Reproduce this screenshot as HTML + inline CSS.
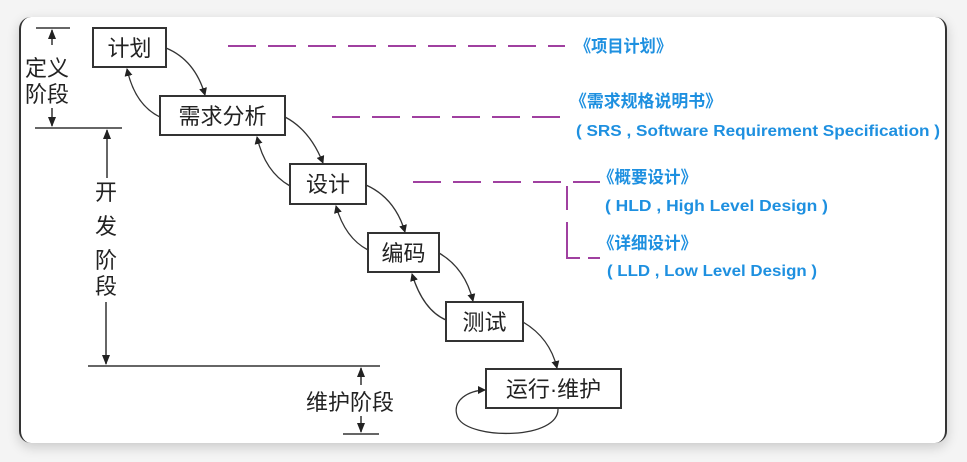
<!DOCTYPE html>
<html><head><meta charset="utf-8"><style>
html,body{margin:0;padding:0;background:#f4f4f4;}
body{width:967px;height:462px;overflow:hidden;position:relative;}
.card{position:absolute;left:19px;top:17px;width:928px;height:426px;background:#fff;border-radius:12px;box-shadow:0 4px 12px rgba(0,0,0,0.18);border-left:2px solid #333;border-right:2px solid #333;box-sizing:border-box;}
svg{position:absolute;left:0;top:0;}
.cn{font-family:"Liberation Sans","Noto Sans CJK SC",sans-serif;font-size:22px;fill:#222;}
.bl{font-family:"Liberation Sans","Noto Sans CJK SC",sans-serif;font-weight:bold;fill:#1e90e0;}
</style></head><body>
<div class="card"></div>
<svg width="967" height="462" viewBox="0 0 967 462">
<defs>
<marker id="a" markerWidth="8" markerHeight="8" refX="7" refY="4" orient="auto" markerUnits="userSpaceOnUse"><path d="M0,0 L8,4 L0,8 z" fill="#222"/></marker>
<marker id="b" markerWidth="10" markerHeight="10" refX="9" refY="5" orient="auto" markerUnits="userSpaceOnUse"><path d="M0,1 L10,5 L0,9 z" fill="#222"/></marker>
</defs>
<g stroke="#333" stroke-width="2" fill="#fff">
<rect x="93" y="28" width="73" height="39"/>
<rect x="160" y="96" width="125" height="39"/>
<rect x="290" y="164" width="76" height="40"/>
<rect x="368" y="233" width="71" height="39"/>
<rect x="446" y="302" width="77" height="39"/>
<rect x="486" y="369" width="135" height="39"/>
</g>
<g class="cn">
<text x="129.5" y="56" text-anchor="middle">计划</text>
<text x="222.5" y="124" text-anchor="middle">需求分析</text>
<text x="328" y="192" text-anchor="middle">设计</text>
<text x="403.5" y="261" text-anchor="middle">编码</text>
<text x="484.5" y="330" text-anchor="middle">测试</text>
<text x="553.5" y="397" text-anchor="middle">运行·维护</text>
<text x="25" y="76">定义</text>
<text x="25" y="102">阶段</text>
<text x="95" y="200">开</text>
<text x="95" y="234">发</text>
<text x="95" y="268">阶</text>
<text x="95" y="294">段</text>
<text x="306" y="410">维护阶段</text>
</g>
<g stroke="#333" stroke-width="1.3" fill="none">
<path d="M166,48 Q195,60 205,95" marker-end="url(#a)"/>
<path d="M160,117 Q135,105 127,69" marker-end="url(#a)"/>
<path d="M285,117 Q310,130 323,163" marker-end="url(#a)"/>
<path d="M290,186 Q265,172 257,137" marker-end="url(#a)"/>
<path d="M366,185 Q395,198 405,232" marker-end="url(#a)"/>
<path d="M368,250 Q345,238 336,206" marker-end="url(#a)"/>
<path d="M439,253 Q465,268 473,301" marker-end="url(#a)"/>
<path d="M446,320 Q423,310 412,274" marker-end="url(#a)"/>
<path d="M523,322 Q550,338 557,368" marker-end="url(#a)"/>
<path d="M558,408 C560,440 470,440 458,418 C450,400 470,390 485,390" marker-end="url(#a)"/>
</g>
<g stroke="#333" stroke-width="1.5" fill="none">
<line x1="36" y1="28" x2="70" y2="28"/>
<line x1="35" y1="128" x2="122" y2="128"/>
<line x1="88" y1="366" x2="380" y2="366"/>
<line x1="343" y1="434" x2="379" y2="434"/>
<line x1="52" y1="45" x2="52" y2="30" marker-end="url(#b)"/>
<line x1="52" y1="108" x2="52" y2="126" marker-end="url(#b)"/>
<line x1="107" y1="178" x2="107" y2="130" marker-end="url(#b)"/>
<line x1="106" y1="302" x2="106" y2="364" marker-end="url(#b)"/>
<line x1="361" y1="385" x2="361" y2="368" marker-end="url(#b)"/>
<line x1="361" y1="416" x2="361" y2="432" marker-end="url(#b)"/>
</g>
<g stroke="#a040a0" stroke-width="2" fill="none" stroke-dasharray="28,12">
<line x1="228" y1="46" x2="565" y2="46"/>
<line x1="332" y1="117" x2="565" y2="117"/>
<line x1="413" y1="182" x2="600" y2="182"/>
</g>
<g stroke="#a040a0" stroke-width="2" fill="none">
<polyline points="567,186 567,210"/>
<polyline points="567,222 567,258 580,258"/>
<line x1="588" y1="258" x2="600" y2="258"/>
</g>
<g class="bl">
<text x="575" y="52" font-size="17" textLength="97" lengthAdjust="spacingAndGlyphs">《项目计划》</text>
<text x="570" y="107" font-size="17" textLength="152" lengthAdjust="spacingAndGlyphs">《需求规格说明书》</text>
<text x="576" y="136" font-size="16" textLength="364" lengthAdjust="spacingAndGlyphs">( SRS , Software Requirement Specification )</text>
<text x="598" y="183" font-size="17" textLength="99" lengthAdjust="spacingAndGlyphs">《概要设计》</text>
<text x="605" y="211" font-size="16" textLength="223" lengthAdjust="spacingAndGlyphs">( HLD , High Level Design )</text>
<text x="598" y="249" font-size="17" textLength="99" lengthAdjust="spacingAndGlyphs">《详细设计》</text>
<text x="607" y="276" font-size="16" textLength="210" lengthAdjust="spacingAndGlyphs">( LLD , Low Level Design )</text>
</g>
</svg>
</body></html>
